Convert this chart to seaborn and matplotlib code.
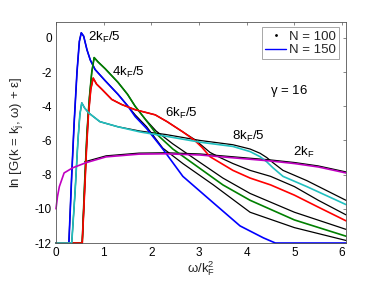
import seaborn as sns
import matplotlib.pyplot as plt
from matplotlib.lines import Line2D

# omega / k_F^2 and ln[G(k, omega) + eps]
# N = 150 (coloured) curves
w_2_5 = [0, 0.27, 0.33, 0.38, 0.44, 0.49, 0.53, 0.58, 0.65, 0.72, 0.82, 1.03, 1.3, 1.51,
         1.66, 1.9, 2.24, 2.66, 3.3, 3.86, 4.35, 4.6, 6.08]
g_2_5 = [-12, -12, -8, -5, -2, -0.2, 0.3, 0.1, -0.7, -1.3, -1.85, -2.5, -3.3, -4.0,
         -4.6, -5.3, -6.5, -8.1, -9.65, -11.0, -11.7, -12, -12]

w_4_5 = [0, 0.55, 0.6, 0.65, 0.7, 0.75, 0.8, 0.88, 1.03, 1.3, 1.5, 1.66, 1.87, 2.1, 2.45,
         3.0, 3.5, 4.07, 5.0, 6.08]
g_4_5 = [-12, -12, -8.5, -5.5, -3.5, -2.0, -1.15, -1.4, -1.8, -2.6, -3.3, -4.0, -4.75, -5.6,
         -6.5, -7.6, -8.6, -9.5, -10.65, -11.6]

w_6_5 = [0, 0.55, 0.6, 0.64, 0.68, 0.73, 0.78, 0.85, 0.96, 1.17, 1.38, 1.66, 2.08, 2.33,
         2.66, 2.91, 3.06, 3.23, 3.44, 3.71, 4.07, 4.5, 5.0, 5.5, 6.08]
g_6_5 = [-12, -12, -9, -6.5, -4.5, -3.0, -2.35, -2.7, -3.0, -3.6, -3.9, -4.2, -4.5, -4.9,
         -5.5, -6.0, -6.4, -6.95, -7.3, -7.75, -8.2, -8.6, -9.2, -9.9, -10.7]

w_8_5 = [0, 0.33, 0.4, 0.46, 0.5, 0.54, 0.6, 0.69, 0.92, 1.3, 1.76, 2.3, 3.02, 3.71,
         4.07, 4.28, 4.42, 4.55, 4.76, 5.26, 6.08]
g_8_5 = [-12, -12, -9, -6, -4.5, -3.8, -4.1, -4.4, -4.9, -5.2, -5.5, -5.75, -6.1, -6.35,
         -6.65, -6.95, -7.25, -7.6, -8.1, -8.7, -9.75]

w_2 = [0, 0.03, 0.07, 0.17, 0.35, 0.63, 1.05, 1.74, 2.3, 3.02, 3.86, 4.5, 5.0, 5.5, 6.08]
g_2 = [-10, -9.3, -8.7, -7.9, -7.6, -7.3, -6.96, -6.8, -6.78, -6.85, -7.05, -7.2, -7.35,
       -7.55, -7.9]

# N = 100 (black) curves
w100_2_5 = [0, 0.27, 0.33, 0.38, 0.44, 0.49, 0.53, 0.58, 0.65, 0.72, 0.82, 1.03, 1.3, 1.51,
            1.66, 1.9, 2.24, 2.66, 3.3, 4.07, 5.0, 6.08]
g100_2_5 = [-12, -12, -8, -5, -2, -0.2, 0.3, 0.1, -0.7, -1.3, -1.85, -2.5, -3.3, -4.0,
            -4.5, -5.2, -6.45, -7.35, -8.6, -10.2, -11.1, -11.85]

w100_4_5 = [0, 0.55, 0.6, 0.65, 0.7, 0.75, 0.8, 0.88, 1.03, 1.3, 1.5, 1.66, 1.87, 2.1, 2.45,
            3.0, 3.5, 4.07, 5.0, 6.08]
g100_4_5 = [-12, -12, -8.5, -5.5, -3.5, -2.0, -1.15, -1.4, -1.8, -2.6, -3.3, -4.0, -4.75, -5.45,
            -6.2, -7.25, -8.2, -9.1, -10.2, -11.2]

w100_6_5 = [0, 0.55, 0.6, 0.64, 0.68, 0.73, 0.78, 0.85, 0.96, 1.17, 1.38, 1.66, 2.08, 2.33,
            2.66, 2.91, 3.06, 3.23, 3.44, 3.71, 4.07, 4.5, 5.0, 5.5, 6.08]
g100_6_5 = [-12, -12, -9, -6.5, -4.5, -3.0, -2.35, -2.7, -3.0, -3.6, -3.9, -4.2, -4.5, -4.9,
            -5.5, -5.95, -6.3, -6.7, -7.0, -7.35, -7.75, -8.1, -8.7, -9.5, -10.35]

w100_8_5 = [0, 0.33, 0.4, 0.46, 0.5, 0.54, 0.6, 0.69, 0.92, 1.3, 1.76, 2.3, 3.02, 3.71,
            4.07, 4.28, 4.42, 4.55, 4.76, 5.26, 6.08]
g100_8_5 = [-12, -12, -9, -6, -4.5, -3.8, -4.1, -4.4, -4.9, -5.2, -5.45, -5.65, -6.0, -6.25,
            -6.5, -6.75, -7.0, -7.3, -7.75, -8.35, -9.5]

w100_2 = [0.6, 1.05, 1.74, 2.3, 3.02, 3.86, 4.5, 5.0, 5.5, 6.08]
g100_2 = [-7.25, -6.9, -6.74, -6.72, -6.79, -6.99, -7.14, -7.29, -7.49, -7.84]

curves_100 = [(w100_2_5, g100_2_5), (w100_4_5, g100_4_5), (w100_6_5, g100_6_5),
              (w100_8_5, g100_8_5), (w100_2, g100_2)]
curves_150 = [(w_2_5, g_2_5, "#0000ff"), (w_4_5, g_4_5, "#008000"), (w_6_5, g_6_5, "#ff0000"),
              (w_8_5, g_8_5, "#20c0c0"), (w_2, g_2, "#c000c0")]

sns.set_theme(style="white")
plt.rcParams["font.family"] = ["Liberation Sans", "DejaVu Sans"]
plt.rcParams["axes.unicode_minus"] = False
plt.rcParams["mathtext.fontset"] = "custom"
plt.rcParams["mathtext.rm"] = "Liberation Sans"
plt.rcParams["mathtext.it"] = "Liberation Sans"

fig = plt.figure(figsize=(3.82, 2.86), dpi=100)
ax = fig.add_axes([0.1466, 0.1503, 0.759, 0.7727])

for w, g in curves_100:
    sns.lineplot(x=w, y=g, ax=ax, color="black", lw=0.9, estimator=None, sort=False,
                 clip_on=False)
for w, g, c in curves_150:
    sns.lineplot(x=w, y=g, ax=ax, color=c, lw=1.2, estimator=None, sort=False,
                 clip_on=False)

ax.set_xlim(0, 6.08)
ax.set_ylim(-12, 0.93)
ax.set_xticks(range(0, 7))
ax.set_yticks(range(-12, 1, 2))
ax.tick_params(direction="in", length=2.5, width=0.5, labelsize=8.5, colors="#555555",
               labelcolor="black", top=True, right=True, pad=3)
for s in ax.spines.values():
    s.set_color("#555555")
    s.set_linewidth(0.6)

ax.set_xlabel(r"$\omega$/k$_F^2$", fontsize=9.5, labelpad=0)
ax.set_ylabel(r"ln [G(k = k$_j$, $\omega$) + $\epsilon$]", fontsize=9.5)
ax.xaxis.set_label_coords(0.5, -0.075)
ax.yaxis.set_label_coords(-0.107, 0.5)

lab_kw = dict(fontsize=9.5, va="baseline", color="black")
ax.text(0.68, -0.2, r"2k$_F$/5", **lab_kw)
ax.text(1.17, -2.2, r"4k$_F$/5", **lab_kw)
ax.text(2.29, -4.6, r"6k$_F$/5", **lab_kw)
ax.text(3.69, -5.95, r"8k$_F$/5", **lab_kw)
ax.text(4.97, -6.9, r"2k$_F$", **lab_kw)
ax.text(4.49, -3.27, r"$\gamma$ = 16", **lab_kw)

handles = [Line2D([], [], color="black", marker=".", markersize=2, lw=0),
           Line2D([], [], color="#0000ff", lw=1.0)]
leg = ax.legend(handles, ["N = 100", "N = 150"], loc="upper right",
                bbox_to_anchor=(0.976, 0.977), borderaxespad=0, fontsize=9.5,
                fancybox=False, framealpha=1, edgecolor="#999999", handlelength=1.6,
                handletextpad=0.2, borderpad=0.25, labelspacing=0.1)
leg.get_frame().set_linewidth(0.6)

fig.savefig("out.png", dpi=100)
